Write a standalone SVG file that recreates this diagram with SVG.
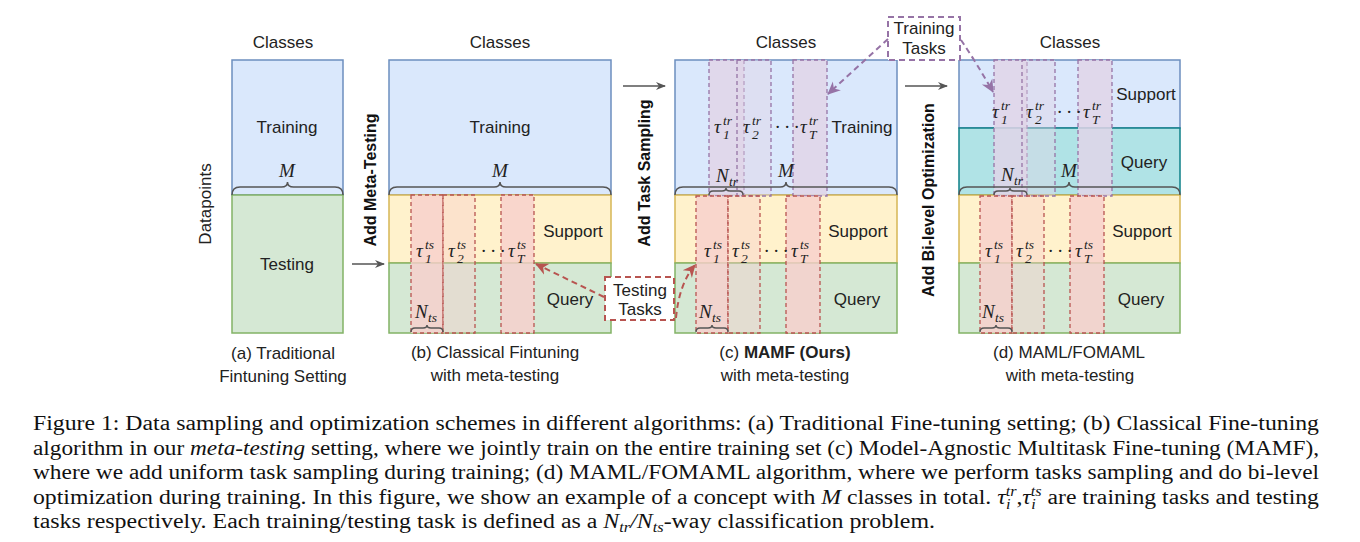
<svg xmlns="http://www.w3.org/2000/svg" width="1360" height="542" viewBox="0 0 1360 542">
<style>
.lbl{font-family:"Liberation Sans",Arial,sans-serif;font-size:17px;fill:#222;text-anchor:middle}
.rot{font-family:"Liberation Sans",Arial,sans-serif;font-size:16px;font-weight:bold;fill:#111;text-anchor:middle}
.m{font-family:"Liberation Serif","Times New Roman",serif;font-style:italic;font-size:19px;fill:#222}
.s{font-size:13.5px}
.cap{font-family:"Liberation Serif","Times New Roman",serif;font-size:20.5px;fill:#111}
.blue{fill:#dae8fc;stroke:#6c8ebf;stroke-width:1.5}
.green{fill:#d5e8d4;stroke:#82b366;stroke-width:1.5}
.yellow{fill:#fff2cc;stroke:#d6b656;stroke-width:1.5}
.teal{fill:#b0e3e6;stroke:#0e8088;stroke-width:1.5}
.rc1{fill:#f8cecc;fill-opacity:.8;stroke:#b85450;stroke-width:1.3;stroke-dasharray:4 3}
.rc2{fill:#f8cecc;fill-opacity:.4;stroke:#b85450;stroke-width:1.3;stroke-dasharray:4 3}
.pc1{fill:#e1d5e7;fill-opacity:.85;stroke:#9673a6;stroke-width:1.3;stroke-dasharray:4 3}
.pc2{fill:#e1d5e7;fill-opacity:.45;stroke:#9673a6;stroke-width:1.3;stroke-dasharray:4 3}
.brace{fill:none;stroke:#555;stroke-width:1.5}
.arr{fill:none;stroke:#555;stroke-width:1.5}
.rarr{fill:none;stroke:#b85450;stroke-width:2;stroke-dasharray:6 4}
.parr{fill:none;stroke:#9673a6;stroke-width:2;stroke-dasharray:6 4}
.rbox{fill:#fff;stroke:#b85450;stroke-width:2;stroke-dasharray:6 4}
.pbox{fill:#fff;stroke:#9673a6;stroke-width:2;stroke-dasharray:6 4}
</style>
<defs>
<marker id="ag" markerWidth="10" markerHeight="10" refX="9" refY="5" orient="auto" markerUnits="userSpaceOnUse"><path d="M0,1 L10,5 L0,9 L3,5 Z" fill="#555"/></marker>
<marker id="ar" markerWidth="14" markerHeight="14" refX="12" refY="7" orient="auto" markerUnits="userSpaceOnUse"><path d="M0,1 L13,7 L0,13 L4,7 Z" fill="#b85450"/></marker>
<marker id="ap" markerWidth="14" markerHeight="14" refX="12" refY="7" orient="auto" markerUnits="userSpaceOnUse"><path d="M0,1 L13,7 L0,13 L4,7 Z" fill="#9673a6"/></marker>
</defs>

<!-- Panel a -->
<g id="panel-a">
<rect class="blue" x="232" y="60" width="111" height="135"/>
<rect class="green" x="232" y="195" width="111" height="138"/>
<text class="lbl" x="283" y="48">Classes</text>
<text class="lbl" x="287" y="133">Training</text>
<text class="lbl" x="287" y="270">Testing</text>
<text class="m" x="287" y="177" text-anchor="middle">M</text>
<path class="brace" d="M232,195 Q232,187 240,187 L281.5,187 Q287.5,187 287.5,182 Q287.5,187 293.5,187 L335,187 Q343,187 343,195"/>
<text class="lbl" transform="translate(211,204) rotate(-90)">Datapoints</text>
<text class="lbl" x="283" y="359">(a) Traditional</text>
<text class="lbl" x="283" y="382">Fintuning Setting</text>
</g>

<!-- Panel b -->
<g id="panel-b">
<rect class="blue" x="389" y="60" width="222" height="135"/>
<rect class="yellow" x="389" y="195" width="222" height="68"/>
<rect class="green" x="389" y="263" width="222" height="70"/>
<rect class="rc1" x="411" y="195" width="32" height="138"/>
<rect class="rc2" x="443" y="195" width="32" height="138"/>
<rect class="rc1" x="501" y="195" width="33" height="138"/>
<text class="lbl" x="500" y="48">Classes</text>
<text class="lbl" x="500" y="133">Training</text>
<text class="lbl" x="573" y="237">Support</text>
<text class="lbl" x="570" y="305">Query</text>
<text class="m" x="500" y="177" text-anchor="middle">M</text>
<path class="brace" d="M389,195 Q389,187 397,187 L494,187 Q500,187 500,182 Q500,187 506,187 L603,187 Q611,187 611,195"/>
<text class="m" x="416" y="257">τ<tspan class="s" x="425" y="249">ts</tspan><tspan class="s" x="425" y="263">1</tspan></text>
<text class="m" x="448" y="257">τ<tspan class="s" x="457" y="249">ts</tspan><tspan class="s" x="457" y="263">2</tspan></text>
<text class="m" x="481" y="257" font-style="normal">· · ·</text>
<text class="m" x="508" y="257">τ<tspan class="s" x="517" y="249">ts</tspan><tspan class="s" x="517" y="263">T</tspan></text>
<text class="m" x="415" y="318">N<tspan class="s" x="428" y="322">ts</tspan></text>
<path class="brace" d="M411,332 Q411,328 415,328 L423,328 Q427,328 427,325 Q427,328 431,328 L439,328 Q443,328 443,332"/>
<text class="lbl" x="495" y="358">(b) Classical Fintuning</text>
<text class="lbl" x="495" y="381">with meta-testing</text>
</g>

<!-- Panel c -->
<g id="panel-c">
<rect class="blue" x="675" y="60" width="222" height="135"/>
<rect class="yellow" x="675" y="195" width="222" height="68"/>
<rect class="green" x="675" y="263" width="222" height="70"/>
<rect class="pc1" x="709" y="60" width="35" height="136"/>
<rect class="pc2" x="737" y="60" width="34" height="136"/>
<rect class="pc1" x="793" y="60" width="34" height="136"/>
<rect class="rc1" x="696" y="196" width="32" height="137"/>
<rect class="rc2" x="728" y="196" width="32" height="137"/>
<rect class="rc1" x="786" y="196" width="34" height="137"/>
<text class="lbl" x="786" y="48">Classes</text>
<text class="lbl" x="862" y="133">Training</text>
<text class="lbl" x="858" y="237">Support</text>
<text class="lbl" x="857" y="305">Query</text>
<text class="m" x="786" y="177" text-anchor="middle">M</text>
<path class="brace" d="M675,195 Q675,187 683,187 L780,187 Q786,187 786,182 Q786,187 792,187 L889,187 Q897,187 897,195"/>
<text class="m" x="714" y="133">τ<tspan class="s" x="723" y="125">tr</tspan><tspan class="s" x="723" y="139">1</tspan></text>
<text class="m" x="743" y="133">τ<tspan class="s" x="752" y="125">tr</tspan><tspan class="s" x="752" y="139">2</tspan></text>
<text class="m" x="775" y="133" font-style="normal">· · ·</text>
<text class="m" x="800" y="133">τ<tspan class="s" x="809" y="125">tr</tspan><tspan class="s" x="809" y="139">T</tspan></text>
<text class="m" x="716" y="182">N<tspan class="s" x="729" y="186">tr</tspan></text>
<path class="brace" d="M709,195 Q709,191 713,191 L722,191 Q726,191 726,188 Q726,191 730,191 L739,191 Q743,191 743,195"/>
<text class="m" x="704" y="257">τ<tspan class="s" x="713" y="249">ts</tspan><tspan class="s" x="713" y="263">1</tspan></text>
<text class="m" x="732" y="257">τ<tspan class="s" x="741" y="249">ts</tspan><tspan class="s" x="741" y="263">2</tspan></text>
<text class="m" x="764" y="257" font-style="normal">· · ·</text>
<text class="m" x="791" y="257">τ<tspan class="s" x="800" y="249">ts</tspan><tspan class="s" x="800" y="263">T</tspan></text>
<text class="m" x="699" y="318">N<tspan class="s" x="712" y="322">ts</tspan></text>
<path class="brace" d="M696,332 Q696,328 700,328 L708,328 Q712,328 712,325 Q712,328 716,328 L724,328 Q728,328 728,332"/>
<text class="lbl" x="785" y="358">(c) <tspan font-weight="bold">MAMF (Ours)</tspan></text>
<text class="lbl" x="785" y="381">with meta-testing</text>
</g>

<!-- Panel d -->
<g id="panel-d">
<rect class="blue" x="959" y="60" width="221" height="68"/>
<rect class="teal" x="959" y="128" width="221" height="67"/>
<rect class="yellow" x="959" y="195" width="221" height="68"/>
<rect class="green" x="959" y="263" width="221" height="70"/>
<rect class="pc1" x="994" y="60" width="33" height="136"/>
<rect class="pc2" x="1022" y="60" width="33" height="136"/>
<rect class="pc1" x="1078" y="60" width="34" height="136"/>
<rect class="rc1" x="980" y="196" width="32" height="137"/>
<rect class="rc2" x="1012" y="196" width="32" height="137"/>
<rect class="rc1" x="1070" y="196" width="34" height="137"/>
<text class="lbl" x="1070" y="48">Classes</text>
<text class="lbl" x="1146" y="100">Support</text>
<text class="lbl" x="1144" y="168">Query</text>
<text class="lbl" x="1142" y="237">Support</text>
<text class="lbl" x="1141" y="305">Query</text>
<text class="m" x="1069" y="177" text-anchor="middle">M</text>
<path class="brace" d="M959,195 Q959,187 967,187 L1063,187 Q1069,187 1069,182 Q1069,187 1075,187 L1172,187 Q1180,187 1180,195"/>
<text class="m" x="992" y="118">τ<tspan class="s" x="1001" y="110">tr</tspan><tspan class="s" x="1001" y="124">1</tspan></text>
<text class="m" x="1026" y="118">τ<tspan class="s" x="1035" y="110">tr</tspan><tspan class="s" x="1035" y="124">2</tspan></text>
<text class="m" x="1057" y="118" font-style="normal">· · ·</text>
<text class="m" x="1083" y="118">τ<tspan class="s" x="1092" y="110">tr</tspan><tspan class="s" x="1092" y="124">T</tspan></text>
<text class="m" x="1001" y="181">N<tspan class="s" x="1014" y="185">tr</tspan></text>
<path class="brace" d="M994,195 Q994,191 998,191 L1006,191 Q1010,191 1010,188 Q1010,191 1014,191 L1023,191 Q1027,191 1027,195"/>
<text class="m" x="985" y="257">τ<tspan class="s" x="994" y="249">ts</tspan><tspan class="s" x="994" y="263">1</tspan></text>
<text class="m" x="1016" y="257">τ<tspan class="s" x="1025" y="249">ts</tspan><tspan class="s" x="1025" y="263">2</tspan></text>
<text class="m" x="1048" y="257" font-style="normal">· · ·</text>
<text class="m" x="1075" y="257">τ<tspan class="s" x="1084" y="249">ts</tspan><tspan class="s" x="1084" y="263">T</tspan></text>
<text class="m" x="982" y="318">N<tspan class="s" x="995" y="322">ts</tspan></text>
<path class="brace" d="M980,332 Q980,328 984,328 L992,328 Q996,328 996,325 Q996,328 1000,328 L1008,328 Q1012,328 1012,332"/>
<text class="lbl" x="1069" y="358">(d) MAML/FOMAML</text>
<text class="lbl" x="1070" y="381">with meta-testing</text>
</g>

<!-- Task boxes -->
<g id="testing-tasks">
<rect class="rbox" x="605" y="277" width="69" height="43"/>
<text class="lbl" x="640" y="296" font-size="16">Testing</text>
<text class="lbl" x="640" y="315" font-size="16">Tasks</text>
</g>
<g id="training-tasks">
<rect class="pbox" x="888" y="17" width="72" height="43"/>
<text class="lbl" x="924" y="34" font-size="16">Training</text>
<text class="lbl" x="924" y="54" font-size="16">Tasks</text>
</g>

<!-- Step labels -->
<g id="steps">
<text class="rot" transform="translate(376,180) rotate(-90)">Add Meta-Testing</text>
<text class="rot" transform="translate(650,173) rotate(-90)">Add Task Sampling</text>
<text class="rot" transform="translate(934,200) rotate(-90)">Add Bi-level Optimization</text>
</g>

<!-- Connectors -->
<g id="connectors">
<path class="arr" d="M352,264 L384,264" marker-end="url(#ag)"/>
<path class="arr" d="M623,86 L665,86" marker-end="url(#ag)"/>
<path class="arr" d="M905,86 L947,86" marker-end="url(#ag)"/>
<path class="rarr" d="M604,297 L536,264" marker-end="url(#ar)"/>
<path class="rarr" d="M676,318 Q679,284 695,265" marker-end="url(#ar)"/>
<path class="parr" d="M888,39 L828,94" marker-end="url(#ap)"/>
<path class="parr" d="M961,40 Q976,62 993,92" marker-end="url(#ap)"/>
</g>

<!-- Caption -->
<g id="caption">
<text class="cap" x="33" y="430" textLength="1286" lengthAdjust="spacingAndGlyphs">Figure 1: Data sampling and optimization schemes in different algorithms: (a) Traditional Fine-tuning setting; (b) Classical Fine-tuning</text>
<text class="cap" x="33" y="455" textLength="1286" lengthAdjust="spacingAndGlyphs">algorithm in our <tspan font-style="italic">meta-testing</tspan> setting, where we jointly train on the entire training set (c) Model-Agnostic Multitask Fine-tuning (MAMF),</text>
<text class="cap" x="33" y="479" textLength="1286" lengthAdjust="spacingAndGlyphs">where we add uniform task sampling during training; (d) MAML/FOMAML algorithm, where we perform tasks sampling and do bi-level</text>
<text class="cap" x="33" y="504" textLength="1286" lengthAdjust="spacingAndGlyphs">optimization during training. In this figure, we show an example of a concept with <tspan font-style="italic">M</tspan> classes in total. <tspan font-style="italic">τ</tspan><tspan font-style="italic" font-size="14" dy="-8">tr</tspan><tspan font-style="italic" font-size="14" dx="-9" dy="13">i</tspan><tspan dx="5" dy="-5">,</tspan><tspan font-style="italic">τ</tspan><tspan font-style="italic" font-size="14" dy="-8">ts</tspan><tspan font-style="italic" font-size="14" dx="-9" dy="13">i</tspan><tspan dx="5" dy="-5"> are training tasks and testing</tspan></text>
<text class="cap" x="33" y="528" textLength="902" lengthAdjust="spacingAndGlyphs">tasks respectively. Each training/testing task is defined as a <tspan font-style="italic">N</tspan><tspan font-style="italic" font-size="14" dy="4">tr</tspan><tspan font-style="italic" dy="-4">/N</tspan><tspan font-style="italic" font-size="14" dy="4">ts</tspan><tspan dy="-4">-way classification problem.</tspan></text>
</g>
</svg>
